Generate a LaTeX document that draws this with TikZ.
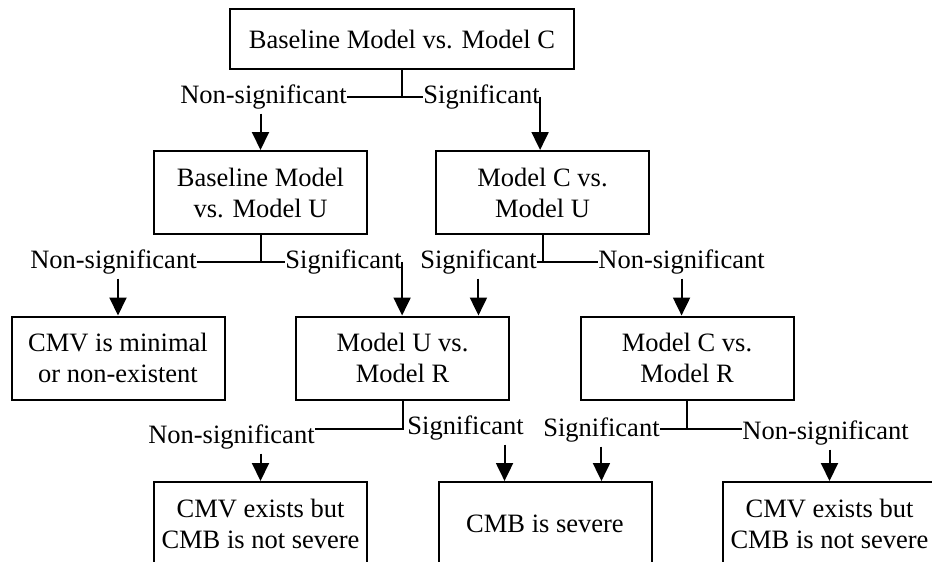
\documentclass[tikz,border=0pt]{standalone}
\usepackage{fontspec}
\setmainfont{Liberation Serif}
\usetikzlibrary{positioning, arrows.meta, calc}

\begin{document}
\begin{tikzpicture}[x=0.5pt, y=-0.5pt,
    box/.style={draw, line width=1pt, minimum width=106.5pt, minimum height=41.5pt,
      inner sep=0pt, align=center, font=\fontsize{13.25}{15.5}\selectfont},
    lbl/.style={inner sep=0pt, font=\fontsize{13.25}{15.5}\selectfont},
    link/.style={line width=1pt},
    arr/.style={line width=1pt, -{Triangle[length=9pt, width=8.5pt]}}]

        % Page frame (bottom row is cut off)
        \useasboundingbox (0,0) rectangle (932,562);
        \clip (0,0) rectangle (932,562);

        % Tests
        \node[box, minimum width=172pt, minimum height=30pt] (bmc) at (402,39) {Baseline Model vs. Model C};
        \node[box] (bmu) at (260.5,192.5) {Baseline Model\\vs. Model U};
        \node[box] (mcu) at (542.5,192.5) {Model C vs.\\Model U};
        \node[box] (mur) at (402.5,358) {Model U vs.\\Model R};
        \node[box] (mcr) at (687,358) {Model C vs.\\Model R};

        % Outcomes
        \node[box] (cmv) at (118,358) {CMV is minimal\\or non-existent};
        \node[box] (nsl) at (260.5,523.5) {CMV exists but\\CMB is not severe};
        \node[box] (sev) at (545,523.5) {CMB is severe};
        \node[box] (nsr) at (829.5,523.5) {CMV exists but\\CMB is not severe};

        % Branch labels
        \node[lbl, anchor=east] (n1) at (347,97) {Non-significant};
        \node[lbl, anchor=west] (s1) at (423,97) {Significant};
        \node[lbl, anchor=east] (n2) at (197,262) {Non-significant};
        \node[lbl, anchor=west] (s2) at (285,262) {Significant};
        \node[lbl, anchor=east] (s3) at (537,262) {Significant};
        \node[lbl, anchor=west] (n3) at (598,262) {Non-significant};
        \node[lbl, anchor=east] (n4) at (315,437) {Non-significant};
        \node[lbl, anchor=west] (s4) at (407,428) {Significant};
        \node[lbl, anchor=east] (s5) at (660,430) {Significant};
        \node[lbl, anchor=west] (n5) at (742,433) {Non-significant};

        % Splits under the first two rows
        \foreach \b/\l/\r in {bmc/n1/s1, bmu/n2/s2, mcu/s3/n3} {
          \draw[link] (\b.south) -- (\b.south |- \l.east);
          \draw[link] (\l.east) -- (\r.west);
        }

        % Splits under the third row
        \coordinate (j4) at ($(mur.south)+(0,28)$);
        \coordinate (j5) at ($(mcr.south)+(0,28)$);
        \draw[link] (mur.south) -- (j4) -- (j4 -| n4.east);
        \draw[link] (mcr.south) -- (j5);
        \draw[link] (j5 -| s5.east) -- (j5 -| n5.west);

        % Arrows
        \draw[arr, shorten <=2pt] (n1.south -| bmu.north) -- (bmu.north);
        \draw[arr] (s1.east) -- (s1.east |- mcu.north);
        \draw[arr, shorten <=2pt] (n2.south -| cmv.north) -- (cmv.north);
        \draw[arr] (s2.east) -- (s2.east |- mur.north);
        \draw[arr, shorten <=2pt] (s3.south) -- (s3.south |- mur.north);
        \draw[arr, shorten <=2pt] (n3.south) -- (n3.south |- mcr.north);
        \draw[arr, shorten <=2pt] (n4.south -| nsl.north) -- (nsl.north);
        \coordinate (a4) at ([xshift=19.5pt]s4.south);
        \draw[arr, shorten <=2pt] (a4) -- (a4 |- sev.north);
        \draw[arr, shorten <=2pt] (s5.south) -- (s5.south |- sev.north);
        \draw[arr, shorten <=2pt] (n5.south -| nsr.north) -- (nsr.north);

      \end{tikzpicture}
\end{document}
